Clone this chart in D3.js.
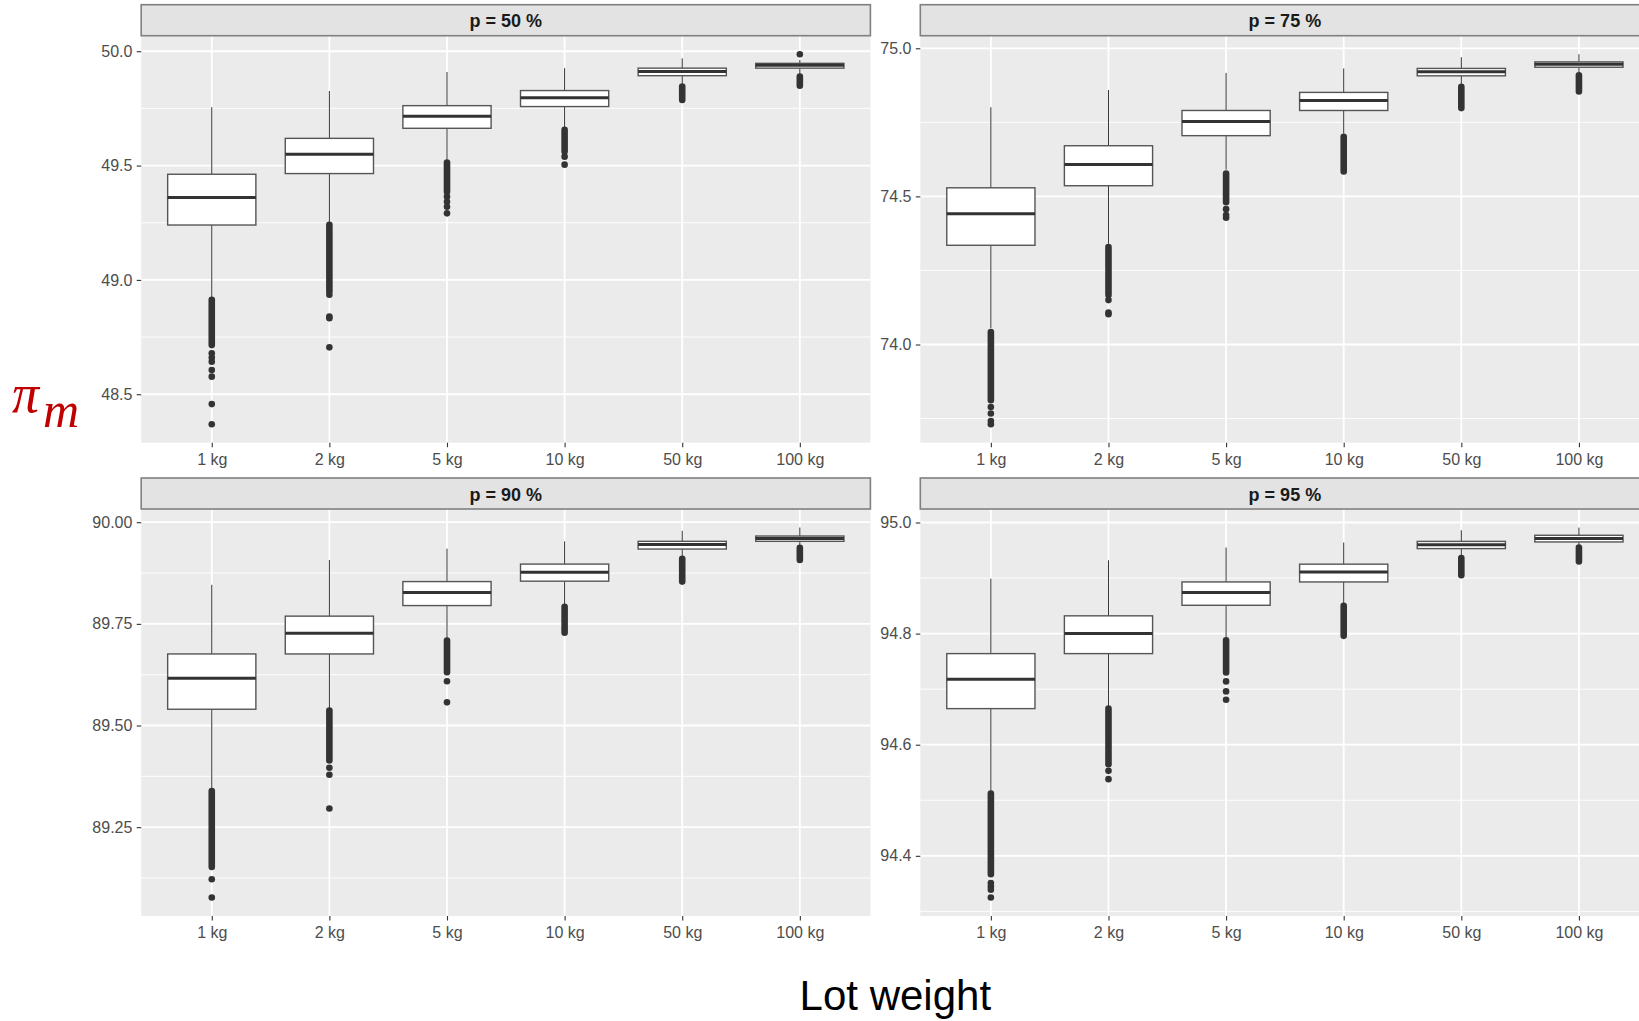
<!DOCTYPE html>
<html>
<head>
<meta charset="utf-8">
<script src="https://cdnjs.cloudflare.com/ajax/libs/d3/7.8.5/d3.min.js"></script>
<style>
  body { margin: 0; background: #fff; }
  svg { display: block; font-family: 'Liberation Sans', Arial, sans-serif; }
</style>
</head>
<body>
<div class="canvas"></div>
<script>
const weights = ['1 kg', '2 kg', '5 kg', '10 kg', '50 kg', '100 kg'];
const panelTitles = ['p = 50 %', 'p = 75 %', 'p = 90 %', 'p = 95 %'];

// box stats per weight: [lower whisker, q1, median, q3, upper whisker]
const box50 = [
  [48.925, 49.240, 49.360, 49.462, 49.755],
  [49.250, 49.465, 49.549, 49.619, 49.826],
  [49.525, 49.663, 49.716, 49.762, 49.909],
  [49.668, 49.758, 49.797, 49.828, 49.926],
  [49.858, 49.893, 49.911, 49.926, 49.969],
  [49.900, 49.926, 49.939, 49.947, 49.962]
];
const box75 = [
  [74.055, 74.335, 74.441, 74.529, 74.801],
  [74.340, 74.536, 74.608, 74.671, 74.859],
  [74.590, 74.705, 74.753, 74.790, 74.917],
  [74.712, 74.790, 74.824, 74.851, 74.932],
  [74.880, 74.907, 74.921, 74.932, 74.970],
  [74.918, 74.936, 74.946, 74.954, 74.980]
];
const box90 = [
  [89.345, 89.540, 89.616, 89.676, 89.846],
  [89.542, 89.676, 89.727, 89.769, 89.907],
  [89.713, 89.795, 89.827, 89.854, 89.935],
  [89.797, 89.855, 89.877, 89.897, 89.953],
  [89.914, 89.934, 89.945, 89.953, 89.979],
  [89.941, 89.953, 89.960, 89.966, 89.987]
];
const box95 = [
  [94.515, 94.665, 94.718, 94.764, 94.899],
  [94.668, 94.764, 94.800, 94.832, 94.932],
  [94.790, 94.851, 94.874, 94.893, 94.955],
  [94.853, 94.893, 94.911, 94.925, 94.964],
  [94.937, 94.953, 94.960, 94.966, 94.986],
  [94.957, 94.965, 94.971, 94.977, 94.991]
];

// dense columns of outliers (overlapping points): [top, bottom]
const runs50 = [[48.913, 48.715], [49.241, 48.950], [49.513, 49.386], [49.656, 49.561], [49.846, 49.787], [49.889, 49.849]];
const runs75 = [[74.042, 73.812], [74.329, 74.167], [74.577, 74.480], [74.701, 74.584], [74.870, 74.798], [74.909, 74.854]];
const runs90 = [[89.339, 89.152], [89.537, 89.414], [89.709, 89.631], [89.792, 89.728], [89.910, 89.854], [89.937, 89.907]];
const runs95 = [[94.512, 94.367], [94.665, 94.565], [94.788, 94.730], [94.850, 94.796], [94.936, 94.905], [94.955, 94.930]];

// separate outliers
const dots50 = [[48.679, 48.660, 48.642, 48.606, 48.577, 48.457, 48.369], [48.935, 48.840, 48.832, 48.705], [49.364, 49.342, 49.320, 49.291], [49.539, 49.504], [], [49.987]];
const dots75 = [[73.789, 73.767, 73.742, 73.731], [74.150, 74.108, 74.102], [74.457, 74.437, 74.428], [], [], []];
const dots90 = [[89.122, 89.077], [89.396, 89.379, 89.296], [89.609, 89.557], [], [], []];
const dots95 = [[94.351, 94.345, 94.339, 94.325], [94.553, 94.538], [94.714, 94.696, 94.681], [], [], []];

// y axis ticks
const ticks50 = [48.5, 49.0, 49.5, 50.0];
const minor50 = [48.75, 49.25, 49.75];
const ticks75 = [74.0, 74.5, 75.0];
const minor75 = [73.75, 74.25, 74.75];
const ticks90 = [89.25, 89.5, 89.75, 90.0];
const minor90 = [89.125, 89.375, 89.625, 89.875];
const ticks95 = [94.4, 94.6, 94.8, 95.0];
const minor95 = [94.3, 94.5, 94.7, 94.9];

const panels = [
  { title: panelTitles[0], box: box50, runs: runs50, dots: dots50, ticks: ticks50, minor: minor50, fmt: '.1f', col: 0, row: 0 },
  { title: panelTitles[1], box: box75, runs: runs75, dots: dots75, ticks: ticks75, minor: minor75, fmt: '.1f', col: 1, row: 0 },
  { title: panelTitles[2], box: box90, runs: runs90, dots: dots90, ticks: ticks90, minor: minor90, fmt: '.2f', col: 0, row: 1 },
  { title: panelTitles[3], box: box95, runs: runs95, dots: dots95, ticks: ticks95, minor: minor95, fmt: '.1f', col: 1, row: 1 }
];

const width = 1639;
const height = 1021;
const colX = [141.2, 920.3];
const rowY = [35.7, 509];
const panelW = 729.2;
const panelH = 407;
const stripH = 31;
const dotR = 3.3;

const svg = d3
  .select('.canvas')
  .append('svg')
  .attr('width', width)
  .attr('height', height);

const x = d3.scalePoint().domain(weights).range([0, panelW]).padding(0.6);
const boxW = x.step() * 0.75;

panels.forEach(p => {
  const g = svg
    .append('g')
    .attr('transform', `translate(${colX[p.col]}, ${rowY[p.row]})`);

  // y domain from data, expanded 5 % each side like ggplot
  const all = p.box.flat().concat(p.runs.flat(), p.dots.flat());
  const [lo, hi] = d3.extent(all);
  const pad = (hi - lo) * 0.05;
  const y = d3.scaleLinear().domain([lo - pad, hi + pad]).range([panelH, 0]);

  // panel background and grid
  g.append('rect')
    .attr('width', panelW)
    .attr('height', panelH)
    .attr('fill', '#ebebeb');

  g.selectAll('.minor')
    .data(p.minor)
    .enter()
    .append('line')
    .attr('x1', 0)
    .attr('x2', panelW)
    .attr('y1', d => y(d))
    .attr('y2', d => y(d))
    .attr('stroke', '#fff')
    .attr('stroke-width', 0.9);

  g.selectAll('.major')
    .data(p.ticks)
    .enter()
    .append('line')
    .attr('x1', 0)
    .attr('x2', panelW)
    .attr('y1', d => y(d))
    .attr('y2', d => y(d))
    .attr('stroke', '#fff')
    .attr('stroke-width', 1.8);

  g.selectAll('.vgrid')
    .data(weights)
    .enter()
    .append('line')
    .attr('x1', d => x(d))
    .attr('x2', d => x(d))
    .attr('y1', 0)
    .attr('y2', panelH)
    .attr('stroke', '#fff')
    .attr('stroke-width', 1.8);

  // strip
  g.append('rect')
    .attr('x', 0)
    .attr('y', -stripH)
    .attr('width', panelW)
    .attr('height', stripH)
    .attr('fill', '#e3e3e3')
    .attr('stroke', '#808080')
    .attr('stroke-width', 1.6);

  g.append('text')
    .attr('x', panelW / 2)
    .attr('y', -stripH / 2 + 7)
    .attr('text-anchor', 'middle')
    .attr('font-size', 18)
    .attr('font-weight', 'bold')
    .attr('fill', '#1a1a1a')
    .text(p.title);

  // axes
  const yAxis = d3
    .axisLeft(y)
    .tickValues(p.ticks)
    .tickFormat(d3.format(p.fmt))
    .tickSize(4.5)
    .tickPadding(4.3);
  const xAxis = d3.axisBottom(x).tickSize(4.5).tickPadding(6.5);

  const yg = g.append('g').call(yAxis);
  const xg = g
    .append('g')
    .attr('transform', `translate(0, ${panelH})`)
    .call(xAxis);

  [yg, xg].forEach(a => {
    a.select('.domain').remove();
    a.selectAll('line').attr('stroke', '#333').attr('stroke-width', 1.1);
    a.selectAll('text')
      .attr('fill', '#4d4d4d')
      .attr('font-size', 16)
      .attr('font-family', "'Liberation Sans', Arial, sans-serif");
  });

  // boxes
  const boxes = g
    .selectAll('.box')
    .data(p.box)
    .enter()
    .append('g')
    .attr('transform', (d, i) => `translate(${x(weights[i])}, 0)`);

  boxes
    .append('line')
    .attr('y1', d => y(d[3]))
    .attr('y2', d => y(d[4]))
    .attr('stroke', '#333')
    .attr('stroke-width', 1);

  boxes
    .append('line')
    .attr('y1', d => y(d[1]))
    .attr('y2', d => y(d[0]))
    .attr('stroke', '#333')
    .attr('stroke-width', 1);

  boxes
    .append('rect')
    .attr('x', -boxW / 2)
    .attr('width', boxW)
    .attr('y', d => y(d[3]))
    .attr('height', d => y(d[1]) - y(d[3]))
    .attr('fill', '#fff')
    .attr('stroke', '#555')
    .attr('stroke-width', 1.4);

  boxes
    .append('line')
    .attr('x1', -boxW / 2)
    .attr('x2', boxW / 2)
    .attr('y1', d => y(d[2]))
    .attr('y2', d => y(d[2]))
    .attr('stroke', '#333')
    .attr('stroke-width', 3);

  // outliers: dense runs as a stack of overlapping points
  g.selectAll('.run')
    .data(p.runs)
    .enter()
    .append('line')
    .attr('x1', (d, i) => x(weights[i]))
    .attr('x2', (d, i) => x(weights[i]))
    .attr('y1', d => y(d[0]))
    .attr('y2', d => y(d[1]))
    .attr('stroke', '#333')
    .attr('stroke-width', dotR * 2)
    .attr('stroke-linecap', 'round');

  const pts = p.dots.flatMap((vals, i) => vals.map(v => ({ w: weights[i], v })));
  g.selectAll('.dot')
    .data(pts)
    .enter()
    .append('circle')
    .attr('cx', d => x(d.w))
    .attr('cy', d => y(d.v))
    .attr('r', dotR)
    .attr('fill', '#333');
});

// axis titles
svg
  .append('text')
  .attr('x', (colX[0] + colX[1] + panelW) / 2)
  .attr('y', 1010)
  .attr('text-anchor', 'middle')
  .attr('font-size', 42)
  .attr('fill', '#000')
  .text('Lot weight');

const yTitle = svg
  .append('text')
  .attr('font-family', "'Liberation Serif', 'DejaVu Serif', serif")
  .attr('font-style', 'italic')
  .attr('fill', '#c00000');

yTitle.append('tspan').attr('x', 12).attr('y', 412).attr('font-size', 54).text('π');
yTitle.append('tspan').attr('x', 43).attr('y', 427).attr('font-size', 50).text('m');
</script>
</body>
</html>
